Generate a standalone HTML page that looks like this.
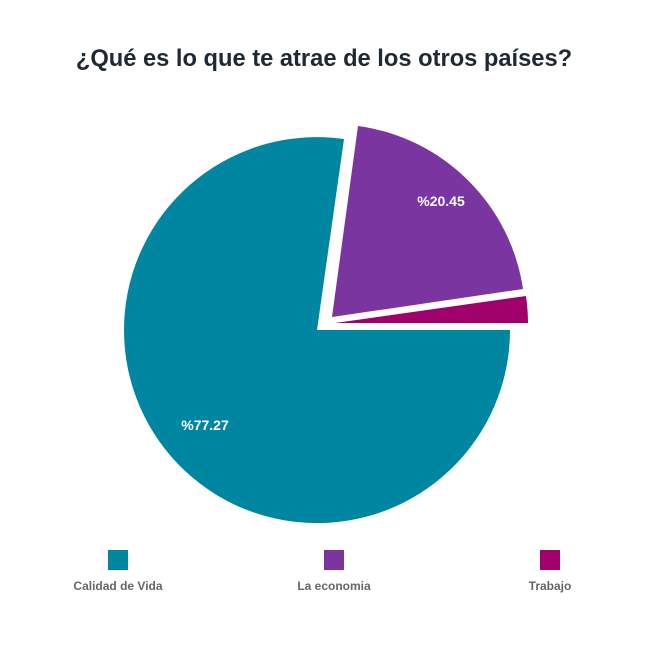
<!DOCTYPE html>
<html><head><meta charset="utf-8"><style>
body{margin:0;background:#fff;}
svg{display:block;font-family:"Liberation Sans",sans-serif;}
</style></head><body>
<svg width="648" height="648" viewBox="0 0 648 648">
<rect width="648" height="648" fill="#fff"/>
<text x="324" y="66" text-anchor="middle" font-size="23.7" font-weight="bold" fill="#1f2933">¿Qué es lo que te atrae de los otros países?</text>
<path d="M317,330 L510,330 A193,193 0 1 1 344,139 Z" fill="#0086A0"/>
<path d="M332,317 L358,126 A193,193 0 0 1 523,289 Z" fill="#7A35A0"/>
<path d="M335,323 L526,296 A193,193 0 0 1 528,323 Z" fill="#A0006A"/>
<text x="441" y="206" text-anchor="middle" font-size="14" font-weight="bold" fill="#fff">%20.45</text>
<text x="205" y="430" text-anchor="middle" font-size="14" font-weight="bold" fill="#fff">%77.27</text>
<rect x="108" y="550" width="20" height="20" fill="#0086A0"/>
<rect x="324" y="550" width="20" height="20" fill="#7A35A0"/>
<rect x="540" y="550" width="20" height="20" fill="#A0006A"/>
<g font-size="12" font-weight="bold" fill="#666" text-anchor="middle">
<text x="118" y="590">Calidad de Vida</text>
<text x="334" y="590">La economia</text>
<text x="550" y="590">Trabajo</text>
</g>
</svg>
</body></html>
